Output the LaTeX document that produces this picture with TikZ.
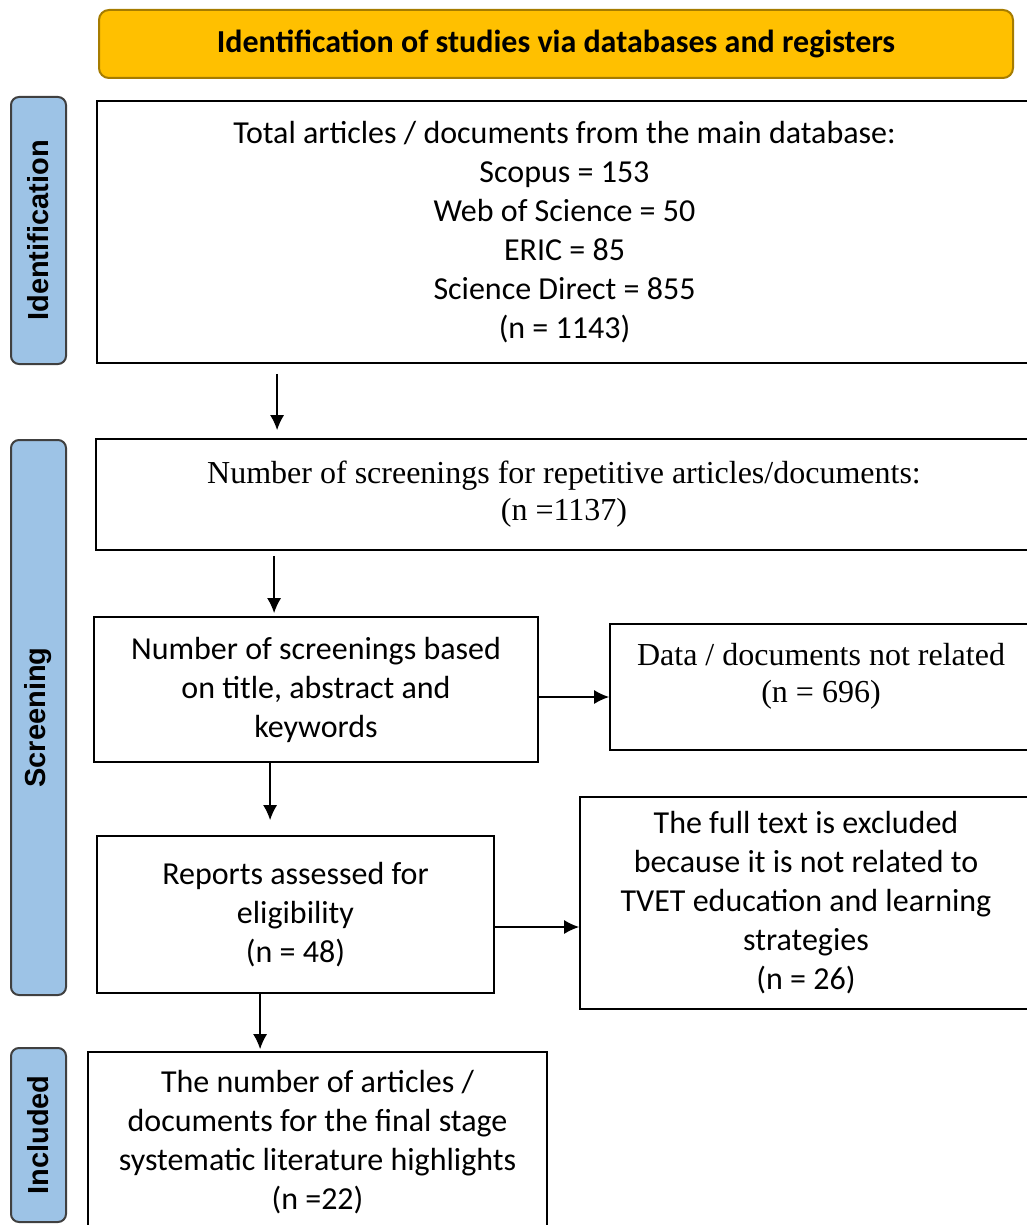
\documentclass[tikz,border=0pt]{standalone}
\usepackage{fontspec}
\setmainfont{Carlito}
\newfontfamily\timesfont{Liberation Serif}
\newfontfamily\arialfont{Liberation Sans}
\usetikzlibrary{arrows.meta,calc}
\definecolor{bannerfill}{HTML}{FFC000}
\definecolor{bannerdraw}{HTML}{A67C00}
\definecolor{phasefill}{HTML}{9DC3E6}
\begin{document}
\begin{tikzpicture}[x=1pt, y=-1pt,
    box/.style={draw, line width=1.8pt, inner sep=0pt, align=center, font=\fontsize{32}{39}\selectfont},
    serifbox/.style={box, font=\timesfont\fontsize{32}{37}\selectfont},
    phase/.style={draw=black!75, line width=2pt, fill=phasefill, rounded corners=8pt, rotate=90, inner sep=0pt, minimum height=55pt, font=\arialfont\bfseries\fontsize{29}{32}\selectfont},
    arr/.style={line width=1.3pt, -{Latex[length=15pt,width=14pt]}}]
    \useasboundingbox (0,0) rectangle (1026,1225);
    \node[draw=bannerdraw, line width=2pt, fill=bannerfill, rounded corners=10pt, minimum width=914pt, minimum height=68pt, font=\bfseries\fontsize{32}{36}\selectfont] (banner) at (556,44) {Identification of studies via databases and registers};
    \node[phase, minimum width=267pt] (identification) at (38.5,230.5) {Identification};
    \node[phase, minimum width=555pt] (screening) at (38.5,717.5) {Screening};
    \node[phase, minimum width=174pt] (included) at (38.5,1135) {Included};
    \node[box, minimum width=935pt, minimum height=262pt] (total) at (564.5,232) {Total articles / documents from the main database:\\Scopus = 153\\Web of Science = 50\\ERIC = 85\\Science Direct = 855\\(n = 1143)};
    \node[serifbox, minimum width=936pt, minimum height=111pt] (repeat) at (564,494.5) {Number of screenings for repetitive articles/documents:\\(n =1137)};
    \node[box, minimum width=444pt, minimum height=145pt] (title) at (316,689.5) {Number of screenings based\\on title, abstract and\\keywords};
    \node[serifbox, minimum width=422pt, minimum height=126pt] (notrel) at (821,687) {Data / documents not related\\(n = 696)\\[-9pt]\mbox{}};
    \node[box, minimum width=397pt, minimum height=157pt] (elig) at (295.5,914.5) {Reports assessed for\\eligibility\\(n = 48)};
    \node[box, minimum width=452pt, minimum height=212pt] (fulltext) at (806,903) {The full text is excluded\\because it is not related to\\TVET education and learning\\strategies\\(n = 26)};
    \node[box, minimum width=459pt, minimum height=180pt] (final) at (317.5,1142) {The number of articles /\\documents for the final stage\\systematic literature highlights\\(n =22)};
    \draw[arr] ([xshift=181pt,yshift=-10pt]total.south west) -- ([xshift=182pt,yshift=8pt]repeat.north west);
    \draw[arr] ([xshift=179pt,yshift=-5pt]repeat.south west) -- ([xshift=181pt,yshift=3pt]title.north west);
    \draw[arr] ([xshift=177pt]title.south west) -- ([xshift=174pt,yshift=15pt]elig.north west);
    \draw[arr] ([xshift=164pt]elig.south west) -- ([xshift=173pt,yshift=2pt]final.north west);
    \draw[arr] ($(title.east)+(0,7.5)$) -- ($(title.east -| notrel.west)+(0,7.5)$);
    \draw[arr] ($(elig.east)+(0,12.5)$) -- ($(elig.east -| fulltext.west)+(0,12.5)$);
\end{tikzpicture}
\end{document}
